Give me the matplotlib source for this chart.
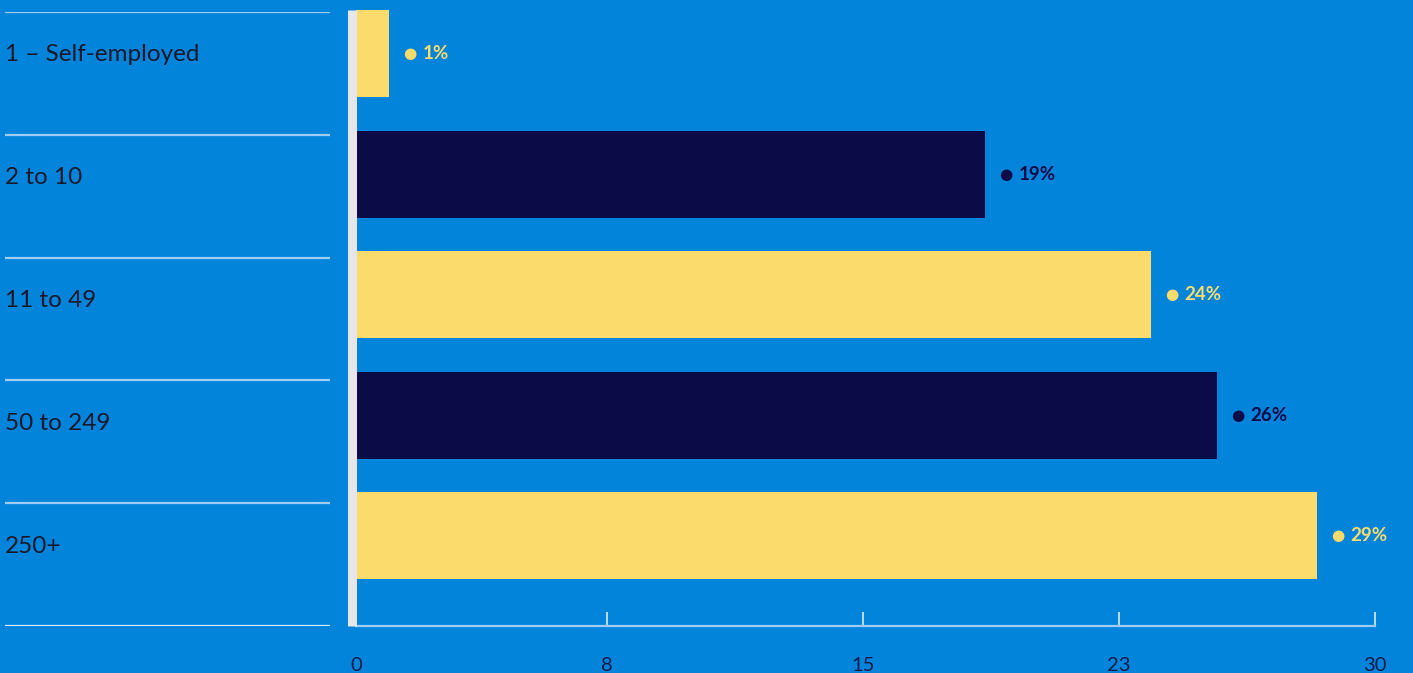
import matplotlib.pyplot as plt

plt.rcParams["font.family"] = ["Lato", "DejaVu Sans"]

# workforce size bands and share of respondents (%)
categories = ["1 – Self-employed", "2 to 10", "11 to 49", "50 to 249", "250+"]
shares = [1, 19, 24, 26, 29]
value_labels = ["1%", "19%", "24%", "26%", "29%"]
tick_values = [7.58, 15.3, 23.03, 30.75]
tick_labels = ["8", "15", "23", "30"]

bg = "#0284DB"
yellow = "#FBDB6B"
navy = "#0B0B47"
rule = "#9FCDF2"
bar_colors = [yellow, navy, yellow, navy, yellow]

W, H = 1413, 673
fig = plt.figure(figsize=(W / 100, H / 100), dpi=100, facecolor=bg)

# left panel: category names between thin rules
lax = fig.add_axes([5 / W, 47 / H, 325 / W, 614 / H])
lax.set_facecolor(bg)
lax.set_xlim(0, 1)
lax.set_ylim(len(categories), 0)
lax.axis("off")
for i in range(len(categories) + 1):
    lax.axhline(i, color=rule if i < len(categories) else "#DCEBF8", lw=1.6)
for i, name in enumerate(categories):
    lax.text(0, i + 0.35, name, fontsize=17.5, color="#17192B",
             ha="left", va="center")

# right panel: horizontal bars
ax = fig.add_axes([356 / W, 47 / H, 1018.5 / W, 626 / H])
ax.set_facecolor(bg)
ypos = range(len(categories))
ax.barh(ypos, shares, height=0.722, color=bar_colors, zorder=3)
ax.set_xlim(0, 30.75)
ax.set_ylim(4.751, -0.444)

for y, v, lab, c in zip(ypos, shares, value_labels, bar_colors):
    ax.annotate("●", (v, y), xytext=(15, 0), textcoords="offset points",
                ha="center", va="center", fontsize=11, color=c,
                family="DejaVu Sans")
    ax.annotate(lab, (v, y), xytext=(24, 0), textcoords="offset points",
                ha="left", va="center", fontsize=13.5, color=c,
                fontweight="bold")

# light zero line along the left edge
ax.axvline(-0.135, ymin=0, ymax=0.984, color="#E6E6EB", lw=6.5,
           solid_capstyle="butt", clip_on=False, zorder=4)

for side in ["top", "right", "left"]:
    ax.spines[side].set_visible(False)
ax.spines["bottom"].set_color(rule)
ax.spines["bottom"].set_linewidth(1.6)
ax.set_yticks([])
ax.set_xticks([0] + tick_values)
ax.set_xticklabels(["0"] + tick_labels)
ax.tick_params(axis="x", direction="in", length=10, width=1.2, color="#DCEBF8",
               pad=22, labelsize=14.5, labelcolor="#0D1A4A")
ax.get_xticklines()[0].set_visible(False)
ax.get_xticklines()[1].set_visible(False)

fig.savefig("out.png", dpi=100, facecolor=bg)
